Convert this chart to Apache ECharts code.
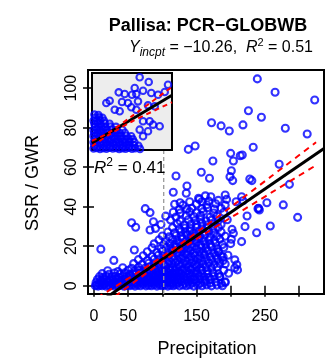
<!DOCTYPE html>
<html>
<head>
<meta charset="utf-8">
<script src="https://cdn.jsdelivr.net/npm/echarts@6/dist/echarts.min.js"></script>
<style>
html,body{margin:0;padding:0;background:#fff;}
#chart{width:334px;height:361px;}
</style>
</head>
<body>
<div id="chart"></div>
<script>
// ---------- text ----------
const titleText = 'Pallisa: PCR\u2212GLOBWB';
const interceptText = '\u221210.26';
const r2MainText = '0.51';
const r2InsetText = '0.41';
const xAxisTitle = 'Precipitation';
const yAxisTitle = 'SSR / GWR';

// ---------- axes ----------
const xRange = [-8.8, 336.6];
const yRange = [-4.2, 109.2];
const xTicks = [0, 50, 100, 150, 200, 250, 300];
const xTickLabels = [0, 50, 150, 250];
const yTicks = [0, 20, 40, 60, 80, 100];

// ---------- main scatter (Precipitation, SSR/GWR) ----------
const cloudPoints = [
[2,0],[4,0.4],[6,-0.2],[9,0.2],[12,0],[15,0.5],[18,-0.3],[21,0.2],[24,0],[27,0.6],[30,-0.2],[33,0.3],[36,0],[40,0.5],[44,-0.3],[48,0.2],[52,0],[56,0.4],[60,-0.2],[64,0.3],[68,0],[72,0.6],[76,-0.1],[80,0.2],[84,0],[88,0.5],[92,-0.2],[96,0.3],[100,0],[104,0.4],[108,-0.2],[112,0.2],[116,0],[120,0.5],[125,-0.1],[130,0.3],[135,0],[140,0.4],[146,-0.2],[152,0.3],[158,0],[165,0.4],[172,-0.1],[180,0.3],[188,0],
[3,1.6],[7,1.2],[11,1.8],[16,1.4],[20,1.9],[25,1.3],[29,1.7],[34,1.5],[38,2.0],[43,1.3],[47,1.7],[51,1.4],[55,1.9],[59,1.5],[63,1.2],[67,1.8],[71,1.5],[75,2.0],[79,1.3],[83,1.7],[87,1.5],[91,1.9],[95,1.2],[99,1.6],[103,1.4],[107,1.9],[111,1.5],[115,1.2],[119,1.8],[123,1.5],[128,1.9],[133,1.3],[138,1.7],[144,1.5],[150,1.9],[156,1.3],[162,1.7],[170,1.4],[178,1.8],[186,1.2],[192,1.6],
[5,3.1],[10,2.7],[14,3.4],[19,2.9],[23,3.3],[28,2.8],[32,3.5],[37,3.0],[41,2.7],[46,3.3],[50,3.0],[54,3.6],[58,2.8],[62,3.2],[66,3.0],[70,3.5],[74,2.7],[78,3.1],[82,3.4],[86,2.9],[90,3.2],[94,3.0],[98,3.6],[102,2.8],[106,3.2],[110,3.0],[114,3.5],[118,2.8],[122,3.2],[127,3.0],[132,3.5],[137,2.8],[142,3.2],[148,3.0],[155,3.4],[163,2.8],[171,3.2],
[8,4.6],[13,4.2],[18,4.9],[26,4.4],[31,4.8],[36,4.3],[42,4.7],[48,4.5],[53,5.0],[58,4.3],[64,4.7],[69,4.4],[73,4.9],[77,4.5],[81,4.2],[85,4.8],[89,4.5],[93,5.0],[97,4.3],[101,4.7],[105,4.4],[109,4.9],[113,4.5],[117,4.2],[121,4.8],[126,4.5],[131,5.0],[136,4.3],[141,4.7],[147,4.4],[154,4.9],[161,4.5],[168,4.2],[176,4.8],[184,4.5],
[12,6.1],[22,5.8],[30,6.4],[38,6.0],[45,6.5],[52,5.8],[57,6.2],[62,6.0],[68,6.5],[74,5.8],[80,6.2],[86,6.0],[92,6.6],[96,5.8],[100,6.2],[104,6.0],[108,6.5],[112,5.8],[116,6.2],[120,6.0],[124,6.6],[128,5.8],[134,6.2],[140,6.0],[146,6.5],[152,5.8],[158,6.2],[166,6.0],[174,6.5],[182,5.9],[197,6.3],
[20,7.6],[35,7.2],[50,7.8],[60,7.4],[66,7.9],[72,7.3],[78,7.7],[84,7.5],[90,8.0],[95,7.3],[100,7.7],[106,7.4],[112,7.9],[118,7.5],[124,7.2],[130,7.8],[136,7.5],[142,8.0],[150,7.3],[158,7.7],[166,7.4],[190,7.8],[210,8.0],
[42,9.1],[55,8.8],[65,9.4],[75,9.0],[82,9.5],[88,8.8],[94,9.2],[99,9.0],[104,9.5],[110,8.8],[115,9.2],[120,9.0],[126,9.6],[132,8.8],[138,9.2],[144,9.0],[150,9.5],[156,8.8],[164,9.2],[172,9.0],[180,9.4],[206,9.0],
[58,11.2],[70,10.8],[80,11.4],[88,11.0],[95,11.5],[102,10.8],[108,11.2],[114,11.0],[119,11.6],[124,10.8],[130,11.2],[136,11.0],[142,11.5],[148,10.8],[154,11.2],[160,11.0],[168,11.5],[176,10.8],[184,11.2],[192,11.0],[209,10.6],
[29,12.8],[65,13.2],[78,12.8],[88,13.4],[96,13.0],[104,13.5],[110,12.8],[116,13.2],[122,13.0],[128,13.6],[134,12.8],[140,13.2],[146,13.0],[152,13.5],[158,12.8],[165,13.2],[172,13.0],[181,13.4],[189,12.8],[206,13.1],
[72,15.2],[85,14.8],[94,15.4],[102,15.0],[110,15.5],[117,14.8],[124,15.2],[130,15.0],[136,15.6],[142,14.8],[148,15.2],[155,15.0],[162,15.5],[170,14.8],[178,15.2],[186,15.0],[196,15.4],
[78,17.2],[92,16.8],[100,17.4],[108,17.0],[115,17.5],[122,16.8],[128,17.2],[135,17.0],[141,17.6],[147,16.8],[154,17.2],[160,17.0],[167,17.5],[175,16.8],[182,17.2],
[10,18.5],[59,18.1],[85,19.2],[98,18.8],[106,19.4],[113,19.0],[120,19.5],[126,18.8],[132,19.2],[138,19.0],[144,19.6],[150,18.8],[157,19.2],[164,19.0],[172,19.5],[180,18.8],[190,19.3],
[88,21.2],[102,20.8],[111,21.4],[118,21.0],[125,21.5],[131,20.8],[137,21.2],[143,21.0],[149,21.6],[156,20.8],[163,21.2],[170,21.0],[178,21.5],[188,20.8],[200,21.3],
[95,23.2],[105,22.8],[115,23.4],[122,23.0],[129,23.5],[135,22.8],[141,23.2],[147,23.0],[153,23.6],[160,22.8],[168,23.2],[176,23.0],[184,23.5],[201,23.5],[216,22.3],
[100,25.2],[110,24.8],[120,25.4],[128,25.0],[136,25.5],[142,24.8],[148,25.2],[155,25.0],[162,25.6],[170,24.8],[180,25.2],[192,25.0],
[82,28.2],[108,27.2],[118,26.8],[127,27.4],[134,27.0],[140,27.5],[146,26.8],[153,27.2],[160,27.0],[168,27.6],[175,26.8],[186,27.2],[204,26.5],[238,26.8],
[61,29.6],[90,29.0],[115,29.4],[125,28.8],[133,29.2],[141,29.0],[150,29.5],[158,28.8],[166,29.2],[174,29.0],[182,29.5],[202,28.5],[221,29.9],
[55,31.9],[98,31.0],[122,31.4],[132,30.8],[142,31.2],[150,31.0],[158,31.5],[166,30.8],[176,31.2],[186,31.0],[258,30.2],
[87,32.4],[112,33.2],[126,32.8],[138,33.4],[148,33.0],[156,33.5],[164,32.8],[172,33.2],[182,33.0],[195,33.4],
[105,35.2],[120,34.8],[135,35.4],[146,35.0],[156,35.5],[170,34.8],[180,35.2],[224,35.3],[298,34.6],
[82,37.0],[116,37.2],[126,36.8],[140,37.4],[150,37.0],[160,37.5],[175,36.8],[190,37.2],[242,38.3],
[75,39.0],[125,38.5],[136,38.8],[143,39.2],[158,39.0],[166,39.5],[176,38.8],[186,39.2],[241,39.2],
[118,41.2],[130,40.8],[150,41.4],[165,41.0],[178,41.5],[192,40.8],[253,42.0],[277,40.9],
[126,42.0],[140,42.5],[154,43.7],[158,42.5],[168,42.8],[182,43.2],[194,43.7],[208,42.5],[218,43.0],
[153,44.3],[163,45.5],[171,45.0],[192,45.9],[216,45.0]
];
const sparsePoints = [
[239,104.7],[265,97.9],[323,94.0],[226,88.6],[245,85.3],[172,82.5],[186,80.9],[198,78.3],[218,81.4],[280,79.7],[312,76.8],
[138,69.0],[148,70.7],[233,70.1],[200,67.0],[214,65.8],[217,66.2],[204,63.1],[174,63.1],[271,61.5],
[157,57.4],[120,55.5],[169,54.4],[201,58.2],[199,55.2],[203,53.2],[228,54.0],[231,53.2],[286,51.3],
[136,50.5],[135,46.8],[116,47.3],[192,2.0],[184,4.6],[182,17.2],[189,14.6],[240,39.0]
];

// ---------- main fit line and confidence band ----------
const fitLine = [[-8.8,-12.35],[336.6,69.5]];
const ciUpper = [[5,-6.0],[60,5.8],[110,17.1],[160,29.5],[200,39.8],[260,55.5],[325,72.6]];
const ciLower = [[5,-12.1],[60,2.1],[110,14.5],[160,25.8],[200,34.4],[260,47.2],[325,61.0]];
const refLineX = 102;

// ---------- inset (relative units 0..100) ----------
const insetPoints = [
[59.6,94.4],[70.9,88.3],[95,84.8],[53.4,80.5],[63.8,77],[33.4,74.9],[40.9,72.7],[50,71.8],[74.1,74],[55.4,72.7],
[22.1,64],[17.9,61],[37.5,62.3],[45,61],[57.5,63.2],[82.5,71.8],[90.9,75.3],[28.4,52.3],[34.6,50.3],[49.1,55.5],
[55.4,52.3],[70,58],[78.4,56.8],[63.8,37.3],[72.1,37.3],[76.3,32.9],[84.6,30.8],[59.6,26.4],[70,24.3],[63.8,17.8],
[2,2],[6,2.8],[10,1.5],[14,2.5],[18,1.8],[22,3],[26,2],[30,2.6],[34,1.4],[38,2.4],[42,1.8],[46,2.9],[50,1.6],[54,2.3],[60,1.5],
[3,6.2],[7,5.5],[11,6.8],[15,5.8],[19,6.5],[23,5.6],[27,6.9],[31,5.9],[35,6.4],[39,5.5],[43,6.7],[47,6],[52,6.5],[58,5.6],
[2,10],[6,10.8],[10,9.6],[14,10.5],[18,9.8],[22,10.9],[26,9.5],[30,10.4],[34,10],[38,10.8],[42,9.7],[47,10.5],[53,10],
[4,14.2],[8,13.6],[12,14.8],[16,13.9],[20,14.5],[24,13.5],[28,14.6],[32,14],[36,14.8],[41,13.7],[46,14.4],[51,14],
[2,18],[6,18.7],[10,17.6],[14,18.5],[18,17.8],[22,18.9],[27,17.7],[32,18.4],[37,18],[43,18.6],[49,17.8],
[3,22.2],[7,21.6],[11,22.7],[15,21.8],[19,22.5],[24,21.7],[29,22.6],[35,22],[41,22.4],
[2,26],[6,26.7],[10,25.7],[14,26.5],[19,25.8],[25,26.6],[31,26],[38,26.4],
[4,30.2],[8,29.6],[12,30.6],[17,29.8],[23,30.4],[30,30],
[3,34],[7,34.6],[11,33.7],[16,34.4],[22,34],
[2,38.2],[6,37.6],[10,38.5],[15,38],
[4,42],[9,42.6],[13,41.8],
[3,46],[8,45.5]
];
const insetFit = [[0,9],[100,71]];
const insetCiUpper = [[0,12],[20,22],[50,44],[100,82]];
const insetCiLower = [[0,5],[20,19],[50,37],[100,62]];

// ---------- build chart ----------
const FONT = 'Liberation Sans, Arial, Helvetica, sans-serif';
const chart = echarts.init(document.getElementById('chart'), null, {renderer: 'canvas'});

const pointStyle = {color: 'rgba(0,0,0,0)', borderColor: '#0000ff', borderWidth: 2.1};
const tickStyle = {color: '#000', width: 1.5};

const option = {
  animation: false,
  backgroundColor: '#fff',
  grid: [
    {left: 88, top: 70, width: 236, height: 224, show: true, borderColor: '#000', borderWidth: 2, backgroundColor: 'rgba(0,0,0,0)'},
    {left: 92, top: 73, width: 80, height: 77, show: true, borderColor: '#000', borderWidth: 2, backgroundColor: '#ededed', z: 10}
  ],
  xAxis: [
    {gridIndex: 0, type: 'value', min: xRange[0], max: xRange[1],
     axisLine: {show: false},
     axisTick: {show: true, customValues: xTicks, length: 11, lineStyle: tickStyle},
     axisLabel: {customValues: xTickLabels, fontSize: 16, color: '#000', margin: 15, fontFamily: FONT},
     splitLine: {show: false}},
    {gridIndex: 1, type: 'value', min: 0, max: 100, show: false}
  ],
  yAxis: [
    {gridIndex: 0, type: 'value', min: yRange[0], max: yRange[1],
     axisLine: {show: false},
     axisTick: {show: true, customValues: yTicks, length: 11, lineStyle: tickStyle},
     axisLabel: {customValues: yTicks, rotate: 90, fontSize: 16, color: '#000', margin: 8, fontFamily: FONT},
     splitLine: {show: false}},
    {gridIndex: 1, type: 'value', min: 0, max: 100, show: false}
  ],
  series: [
    {type: 'scatter', data: cloudPoints.concat(sparsePoints), symbol: 'circle', symbolSize: 7,
     itemStyle: pointStyle, clip: true, silent: true, z: 2},
    {type: 'line', data: [[refLineX, yRange[0]], [refLineX, yRange[1]]], symbol: 'none', silent: true, z: 3,
     lineStyle: {color: '#999999', width: 1.3, type: [4, 3]}},
    {type: 'line', data: fitLine, symbol: 'none', silent: true, z: 4, clip: true,
     lineStyle: {color: '#000', width: 3}},
    {type: 'line', data: ciUpper, symbol: 'none', silent: true, z: 5, clip: true, smooth: 0.3,
     lineStyle: {color: '#ff0000', width: 2, type: [6, 5]}},
    {type: 'line', data: ciLower, symbol: 'none', silent: true, z: 5, clip: true, smooth: 0.3,
     lineStyle: {color: '#ff0000', width: 2, type: [6, 5]}},
    {type: 'scatter', xAxisIndex: 1, yAxisIndex: 1, data: insetPoints, symbol: 'circle', symbolSize: 6.5,
     itemStyle: pointStyle, clip: true, silent: true, z: 11},
    {type: 'line', xAxisIndex: 1, yAxisIndex: 1, data: insetFit, symbol: 'none', silent: true, z: 12, clip: true,
     lineStyle: {color: '#000', width: 3}},
    {type: 'line', xAxisIndex: 1, yAxisIndex: 1, data: insetCiUpper, symbol: 'none', silent: true, z: 13, clip: true, smooth: 0.3,
     lineStyle: {color: '#ff0000', width: 2, type: [5, 4]}},
    {type: 'line', xAxisIndex: 1, yAxisIndex: 1, data: insetCiLower, symbol: 'none', silent: true, z: 13, clip: true, smooth: 0.3,
     lineStyle: {color: '#ff0000', width: 2, type: [5, 4]}}
  ],
  graphic: [
    {type: 'text', x: 208, y: 26, z: 100, silent: true,
     style: {text: titleText, font: 'bold 18px ' + FONT, fill: '#000', align: 'center', verticalAlign: 'middle'}},
    {type: 'text', x: 221, y: 48, z: 100, silent: true,
     style: {text: '{it|Y}{sub|incpt}{n| = ' + interceptText + ',  }{it|R}{sup|2}{n| = ' + r2MainText + '}',
       align: 'center', verticalAlign: 'middle', fill: '#000',
       rich: {
         n: {fontSize: 16, fontFamily: FONT, lineHeight: 22, fill: '#000'},
         it: {fontSize: 16, fontFamily: FONT, fontStyle: 'italic', lineHeight: 22, fill: '#000'},
         sub: {fontSize: 12, fontFamily: FONT, fontStyle: 'italic', lineHeight: 12, verticalAlign: 'bottom', fill: '#000'},
         sup: {fontSize: 11, fontFamily: FONT, lineHeight: 11, verticalAlign: 'top', fill: '#000'}
       }}},
    {type: 'text', x: 94, y: 168, z: 100, silent: true,
     style: {text: '{it|R}{sup|2}{n| = ' + r2InsetText + '}', align: 'left', verticalAlign: 'middle', fill: '#000',
       rich: {
         n: {fontSize: 17, fontFamily: FONT, lineHeight: 22, fill: '#000'},
         it: {fontSize: 17, fontFamily: FONT, fontStyle: 'italic', lineHeight: 22, fill: '#000'},
         sup: {fontSize: 12, fontFamily: FONT, lineHeight: 12, verticalAlign: 'top', fill: '#000'}
       }}},
    {type: 'text', x: 33, y: 183, rotation: Math.PI / 2, z: 100, silent: true,
     style: {text: yAxisTitle, font: '18px ' + FONT, fill: '#000', align: 'center', verticalAlign: 'middle'}},
    {type: 'text', x: 207, y: 349, z: 100, silent: true,
     style: {text: xAxisTitle, font: '18px ' + FONT, fill: '#000', align: 'center', verticalAlign: 'middle'}}
  ]
};
chart.setOption(option);
</script>
</body>
</html>
